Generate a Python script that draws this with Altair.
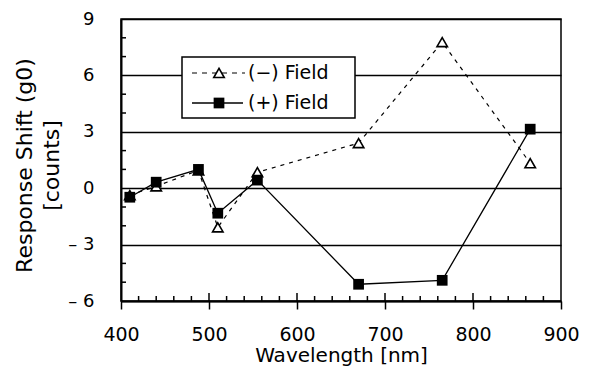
import altair as alt
import pandas as pd

# ---- data ----
wavelength = [410, 440, 488, 510, 555, 670, 765, 865]
minus_field = [-0.37, 0.1, 0.95, -2.08, 0.85, 2.4, 7.77, 1.33]
plus_field = [-0.48, 0.32, 1.0, -1.33, 0.43, -5.11, -4.9, 3.14]

x_ticks = [400, 500, 600, 700, 800, 900]
y_ticks = [-6, -3, 0, 3, 6, 9]
x_minor = [420, 440, 460, 480, 520, 540, 560, 580, 620, 640, 660, 680,
           720, 740, 760, 780, 820, 840, 860, 880]
x_major_inner = [500, 600, 700, 800]
y_minor = [-5, -4, -2, -1, 1, 2, 4, 5, 7, 8]

legend_labels = ["(\u2212) Field", "(+) Field"]

W, H = 440, 282
FONT = "DejaVu Sans"

df_minus = pd.DataFrame({"wl": wavelength, "v": minus_field})
df_plus = pd.DataFrame({"wl": wavelength, "v": plus_field})
df_xminor = pd.DataFrame({"wl": x_minor})
df_xmajor = pd.DataFrame({"wl": x_major_inner})
df_yminor = pd.DataFrame({"v": y_minor})
one = pd.DataFrame({"k": [0]})

xscale = alt.Scale(domain=[400, 900], nice=False, zero=False)
yscale = alt.Scale(domain=[-6, 9], nice=False, zero=False)

x_axis = alt.Axis(
    values=x_ticks, title="Wavelength [nm]", grid=False,
    tickSize=8, tickColor="black", tickWidth=1.5,
    domainColor="black", domainWidth=2,
    labelFont=FONT, labelFontSize=19, labelColor="black", labelPadding=16,
    labelFlush=False, labelOverlap=False,
    titleFont=FONT, titleFontSize=20, titleFontWeight="normal",
    titleColor="black", titlePadding=1,
)
y_axis = alt.Axis(
    values=y_ticks, title=["Response Shift (g0)", "[counts]"],
    grid=True, gridColor="black", gridWidth=1.5, gridOpacity=1,
    ticks=False, domainColor="black", domainWidth=2,
    labelFont=FONT, labelFontSize=18, labelColor="black", labelPadding=27,
    labelFlush=False, labelOverlap=False,
    labelExpr="datum.value < 0 ? '\u2013 ' + abs(datum.value) : datum.label",
    titleFont=FONT, titleFontSize=22, titleFontWeight="normal",
    titleColor="black", titleAngle=-90, titleBaseline="top",
    titleAlign="center", titleX=-107, titleY=146, titleLineHeight=27,
)

X = alt.X("wl:Q", scale=xscale, axis=x_axis)
Y = alt.Y("v:Q", scale=yscale, axis=y_axis)

minus_line = alt.Chart(df_minus).mark_line(
    color="black", strokeWidth=1.2, strokeDash=[4, 5]
).encode(x=X, y=Y)
plus_line = alt.Chart(df_plus).mark_line(
    color="black", strokeWidth=1.3
).encode(x=X, y=Y)
minus_pts = alt.Chart(df_minus).mark_point(
    shape="triangle-up", size=110, filled=True, fill="white",
    stroke="black", strokeWidth=1.6, opacity=1
).encode(x=X, y=Y)
plus_pts = alt.Chart(df_plus).mark_point(
    shape="square", size=115, filled=True, color="black", opacity=1
).encode(x=X, y=Y)

xminor_ticks = alt.Chart(df_xminor).mark_rule(color="black", strokeWidth=1.5).encode(
    x=X, y=alt.value(H), y2=alt.value(H - 5))
xmajor_ticks = alt.Chart(df_xmajor).mark_rule(color="black", strokeWidth=1.5).encode(
    x=X, y=alt.value(H), y2=alt.value(H - 8))
yminor_ticks = alt.Chart(df_yminor).mark_rule(color="black", strokeWidth=1.5).encode(
    y=Y, x=alt.value(0), x2=alt.value(5))

# ---- hand-drawn legend box (as in the original) ----
leg_box = alt.Chart(one).mark_rect(
    fill="white", stroke="black", strokeWidth=1.5
).encode(x=alt.value(61), x2=alt.value(234), y=alt.value(38), y2=alt.value(99))
leg_line1 = alt.Chart(one).mark_rule(color="black", strokeWidth=1.2, strokeDash=[5, 5]).encode(
    x=alt.value(71), x2=alt.value(124), y=alt.value(54))
leg_line2 = alt.Chart(one).mark_rule(color="black", strokeWidth=1.3).encode(
    x=alt.value(71), x2=alt.value(122), y=alt.value(84))
leg_pt1 = alt.Chart(one).mark_point(
    shape="triangle-up", size=110, filled=True, fill="white",
    stroke="black", strokeWidth=1.6, opacity=1
).encode(x=alt.value(98), y=alt.value(54))
leg_pt2 = alt.Chart(one).mark_point(
    shape="square", size=115, filled=True, color="black", opacity=1
).encode(x=alt.value(98), y=alt.value(84))
leg_txt1 = alt.Chart(one).mark_text(
    align="left", baseline="middle", font=FONT, fontSize=19, color="black"
).encode(x=alt.value(127), y=alt.value(54), text=alt.value(legend_labels[0]))
leg_txt2 = alt.Chart(one).mark_text(
    align="left", baseline="middle", font=FONT, fontSize=19, color="black"
).encode(x=alt.value(127), y=alt.value(84), text=alt.value(legend_labels[1]))

chart = alt.layer(
    xminor_ticks, xmajor_ticks, yminor_ticks,
    minus_line, plus_line, minus_pts, plus_pts,
    leg_box, leg_line1, leg_line2, leg_pt1, leg_pt2, leg_txt1, leg_txt2,
).properties(
    width=W, height=H,
    autosize=alt.AutoSizeParams(type="none"),
    padding={"left": 113, "top": 11, "right": 21, "bottom": 65},
    background="white",
).configure_view(stroke="black", strokeWidth=1.5)

chart.save("out.html", embed_options={"renderer": "svg", "actions": False})
